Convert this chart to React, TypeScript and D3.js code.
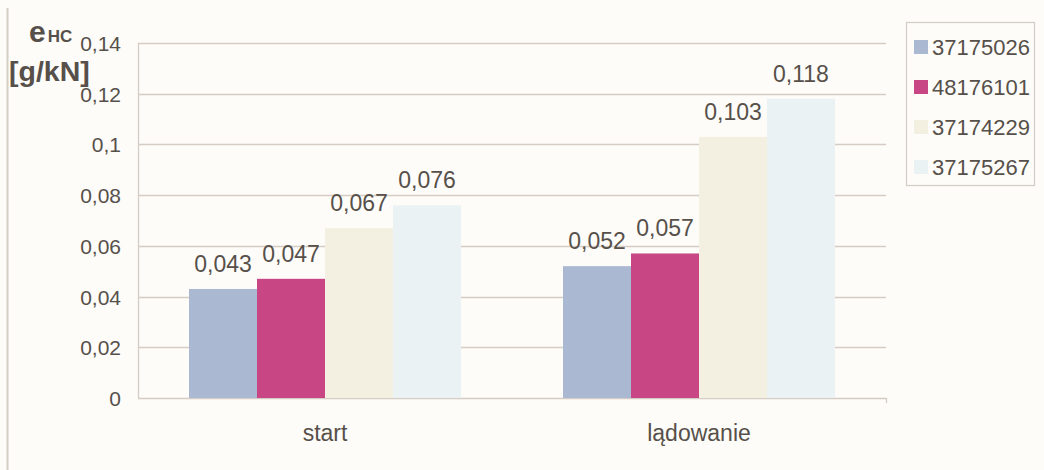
import React, { useEffect, useRef } from 'react';
import * as d3 from 'd3';

const categories = ['start', 'lądowanie'];
const seriesNames = ['37175026', '48176101', '37174229', '37175267'];
const seriesColors = ['#aab8d2', '#c94685', '#f3f0e2', '#ebf2f3'];
// values per series, in category order
const values = [
  [0.043, 0.052],
  [0.047, 0.057],
  [0.067, 0.103],
  [0.076, 0.118],
];
const yTicks = [0, 0.02, 0.04, 0.06, 0.08, 0.1, 0.12, 0.14];

const fmt = (v: number) => (v === 0 ? '0' : String(v).replace('.', ','));

const App: React.FC = () => {
  const svgRef = useRef<SVGSVGElement>(null);

  useEffect(() => {
    if (!svgRef.current) return;
    const svg = d3.select(svgRef.current);
    svg.selectAll('*').remove();

    const width = 1044;
    const height = 470;
    const margin = { top: 43, right: 158, bottom: 72, left: 138 };
    const font = 'Liberation Sans, Arial, sans-serif';
    const textColor = '#57504a';
    const gridColor = '#d6ccc4';

    svg.append('rect').attr('width', width).attr('height', height).attr('fill', '#fdfcf9');

    // left border line
    svg.append('line')
      .attr('x1', 7.5).attr('x2', 7.5).attr('y1', 8).attr('y2', height)
      .attr('stroke', '#d3cec6').attr('stroke-width', 2);

    const x = d3.scaleBand()
      .domain(categories)
      .range([margin.left, width - margin.right])
      .paddingInner(0)
      .paddingOuter(0);

    const inner = d3.scaleBand()
      .domain(seriesNames)
      .range([51, x.bandwidth() - 51]);

    const y = d3.scaleLinear()
      .domain([0, 0.14])
      .range([height - margin.bottom, margin.top]);

    // gridlines
    svg.append('g')
      .selectAll('line')
      .data(yTicks)
      .join('line')
      .attr('x1', margin.left)
      .attr('x2', width - margin.right)
      .attr('y1', d => Math.round(y(d)) + 0.5)
      .attr('y2', d => Math.round(y(d)) + 0.5)
      .attr('stroke', gridColor)
      .attr('stroke-width', 1.3);

    // axis frame lines
    svg.append('line')
      .attr('x1', margin.left + 0.5).attr('x2', margin.left + 0.5)
      .attr('y1', margin.top).attr('y2', y(0))
      .attr('stroke', gridColor).attr('stroke-width', 1.3);
    svg.append('line')
      .attr('x1', width - margin.right + 0.5).attr('x2', width - margin.right + 0.5)
      .attr('y1', y(0)).attr('y2', y(0) + 5)
      .attr('stroke', gridColor).attr('stroke-width', 1.3);

    // bars
    const groups = svg.append('g')
      .selectAll('g')
      .data(seriesNames)
      .join('g')
      .attr('fill', (_, i) => seriesColors[i]);

    groups.selectAll('rect')
      .data((s, i) => categories.map((c, j) => ({ s, c, v: values[i][j] })))
      .join('rect')
      .attr('x', d => x(d.c)! + inner(d.s)!)
      .attr('y', d => y(d.v))
      .attr('width', inner.bandwidth())
      .attr('height', d => y(0) - y(d.v));

    // value labels
    groups.selectAll('text')
      .data((s, i) => categories.map((c, j) => ({ s, c, v: values[i][j] })))
      .join('text')
      .attr('x', d => x(d.c)! + inner(d.s)! + inner.bandwidth() / 2)
      .attr('y', d => y(d.v) - 17)
      .attr('text-anchor', 'middle')
      .attr('font-family', font)
      .attr('font-size', 23)
      .attr('fill', textColor)
      .text(d => fmt(d.v));

    // y tick labels
    svg.append('g')
      .selectAll('text')
      .data(yTicks)
      .join('text')
      .attr('x', 121)
      .attr('y', d => y(d) + 8)
      .attr('text-anchor', 'end')
      .attr('font-family', font)
      .attr('font-size', 21)
      .attr('fill', textColor)
      .text(d => fmt(d));

    // x category labels
    svg.append('g')
      .selectAll('text')
      .data(categories)
      .join('text')
      .attr('x', d => x(d)! + x.bandwidth() / 2)
      .attr('y', 441)
      .attr('text-anchor', 'middle')
      .attr('font-family', font)
      .attr('font-size', 23)
      .attr('fill', textColor)
      .text(d => d);

    // y axis title
    const t1 = svg.append('text')
      .attr('x', 29)
      .attr('y', 42)
      .attr('font-family', font)
      .attr('font-weight', 'bold')
      .attr('fill', textColor);
    t1.append('tspan').attr('font-size', 30).text('e');
    t1.append('tspan').attr('font-size', 17).attr('dx', 2).text('HC');
    svg.append('text')
      .attr('x', 9)
      .attr('y', 81)
      .attr('font-family', font)
      .attr('font-weight', 'bold')
      .attr('font-size', 28.5)
      .attr('fill', textColor)
      .text('[g/kN]');

    // legend
    const lg = svg.append('g');
    lg.append('rect')
      .attr('x', 906.5).attr('y', 22.5).attr('width', 128).attr('height', 163)
      .attr('fill', '#fdfcf9').attr('stroke', '#d3cec6').attr('stroke-width', 1.3);
    const items = lg.selectAll('g')
      .data(seriesNames)
      .join('g')
      .attr('transform', (_, i) => `translate(914,${47 + i * 40})`);
    items.append('rect')
      .attr('x', 0).attr('y', -7).attr('width', 14).attr('height', 14)
      .attr('fill', (_, i) => seriesColors[i]);
    items.append('text')
      .attr('x', 18)
      .attr('y', 8)
      .attr('font-family', font)
      .attr('font-size', 22)
      .attr('fill', textColor)
      .text(d => d);
  }, []);

  return (
    <svg
      ref={svgRef}
      width={1044}
      height={470}
      style={{ position: 'absolute', left: 0, top: 0, display: 'block' }}
    />
  );
};

export default App;
